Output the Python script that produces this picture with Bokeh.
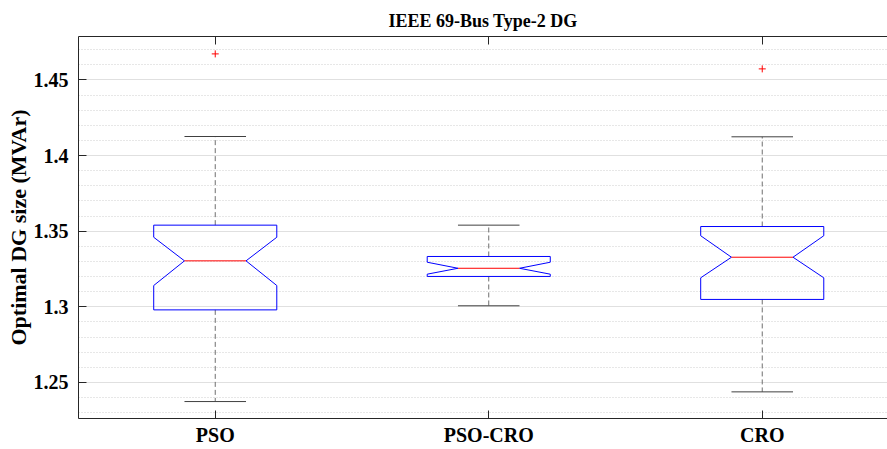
from bokeh.plotting import figure
from bokeh.models import FixedTicker, LinearAxis, Range1d
from bokeh.embed import file_html
from bokeh.resources import INLINE
import numpy as np

# Box-plot statistics per algorithm
categories = ["PSO", "PSO-CRO", "CRO"]
upper_whisker = [1.4126, 1.3540, 1.4124]
q3 = [1.3540, 1.3333, 1.3531]
notch_hi = [1.3460, 1.3295, 1.3470]
median = [1.3304, 1.3255, 1.3328]
notch_lo = [1.3141, 1.3216, 1.3192]
q1 = [1.2980, 1.3201, 1.3049]
lower_whisker = [1.2374, 1.3007, 1.2438]
outliers_x = ["PSO", "CRO"]
outliers_y = [1.4672, 1.4573]

y_ticks = [1.25, 1.3, 1.35, 1.4, 1.45]
y_tick_labels = ["1.25", "1.3", "1.35", "1.4", "1.45"]

pos = np.arange(1, len(categories) + 1, dtype=float)
half_w = 0.225

FONT = "Liberation Serif"

p = figure(width=887, height=449, output_backend="svg", toolbar_location=None,
           x_range=Range1d(0.5, 3.458), y_range=Range1d(1.2262, 1.4787),
           min_border_left=78, min_border_right=0, min_border_top=36,
           min_border_bottom=31, background_fill_color="white",
           border_fill_color="white", outline_line_color=None)

# title
p.title.text = "IEEE 69-Bus Type-2 DG"
p.title.align = "center"
p.title.offset = 6
p.title.text_font = FONT
p.title.text_font_style = "bold"
p.title.text_font_size = "18px"
p.title.text_color = "#000000"
p.title.standoff = 11

# ticks and grid
yt = FixedTicker(ticks=y_ticks, minor_ticks=list(np.round(np.arange(1.22, 1.48, 0.01), 2)))
p.yaxis.ticker = yt
p.xaxis.ticker = FixedTicker(ticks=list(pos))
p.xaxis.major_label_overrides = {float(x): c for x, c in zip(pos, categories)}
p.yaxis.major_label_overrides = {t: s for t, s in zip(y_ticks, y_tick_labels)}

p.xgrid.visible = False
p.ygrid.grid_line_color = "#e0e0e0"
p.ygrid.grid_line_width = 1
p.ygrid.minor_grid_line_color = "#cfcfcf"
p.ygrid.minor_grid_line_dash = "1 2"
p.ygrid.minor_grid_line_width = 1

for ax in (p.xaxis[0], p.yaxis[0]):
    ax.axis_line_color = "#262626"
    ax.major_tick_line_color = "#262626"
    ax.major_tick_in = 8
    ax.major_tick_out = 0
    ax.minor_tick_line_color = None
    ax.major_label_text_font = FONT
    ax.major_label_text_font_style = "bold"
    ax.major_label_text_font_size = "20px"
    ax.major_label_text_color = "#000000"

p.yaxis.major_label_standoff = 6
p.xaxis.major_label_standoff = 5
p.yaxis.axis_label = "Optimal DG size (MVAr)"
p.yaxis.axis_label_text_font = FONT
p.yaxis.axis_label_text_font_style = "bold"
p.yaxis.axis_label_text_font_size = "22px"
p.yaxis.axis_label_text_color = "#000000"
p.yaxis.axis_label_standoff = 0

# mirrored tick marks along the top edge
top_axis = LinearAxis(ticker=FixedTicker(ticks=list(pos)),
                      major_label_overrides={float(x): "" for x in pos},
                      axis_line_color="#262626", major_tick_line_color="#262626",
                      major_tick_in=8, major_tick_out=0, minor_tick_line_color=None,
                      major_label_standoff=0)
p.add_layout(top_axis, "above")

# whiskers (dashed stems)
p.segment(x0=pos, y0=q3, x1=pos, y1=upper_whisker, line_color="#6e6e6e",
          line_dash="5 3", line_width=1)
p.segment(x0=pos, y0=q1, x1=pos, y1=lower_whisker, line_color="#6e6e6e",
          line_dash="5 3", line_width=1)

# whisker caps
cap = half_w / 2
p.segment(x0=pos - cap, y0=upper_whisker, x1=pos + cap, y1=upper_whisker,
          line_color="#404040", line_width=1)
p.segment(x0=pos - cap, y0=lower_whisker, x1=pos + cap, y1=lower_whisker,
          line_color="#404040", line_width=1)

# notched boxes
xs, ys = [], []
for i, x in enumerate(pos):
    xs.append([x - half_w, x - half_w, x - half_w / 2, x - half_w, x - half_w,
               x + half_w, x + half_w, x + half_w / 2, x + half_w, x + half_w])
    ys.append([q1[i], notch_lo[i], median[i], notch_hi[i], q3[i],
               q3[i], notch_hi[i], median[i], notch_lo[i], q1[i]])
p.patches(xs=xs, ys=ys, fill_color=None, line_color="#0000ff", line_width=1)

# medians
p.segment(x0=pos - half_w / 2, y0=median, x1=pos + half_w / 2, y1=median,
          line_color="#ff0000", line_width=1)

# outliers
ox = [float(pos[categories.index(c)]) for c in outliers_x]
p.scatter(x=ox, y=outliers_y, marker="cross", size=7, line_color="#ff0000", line_width=1)

open("out.html", "w").write(file_html(p, INLINE))
